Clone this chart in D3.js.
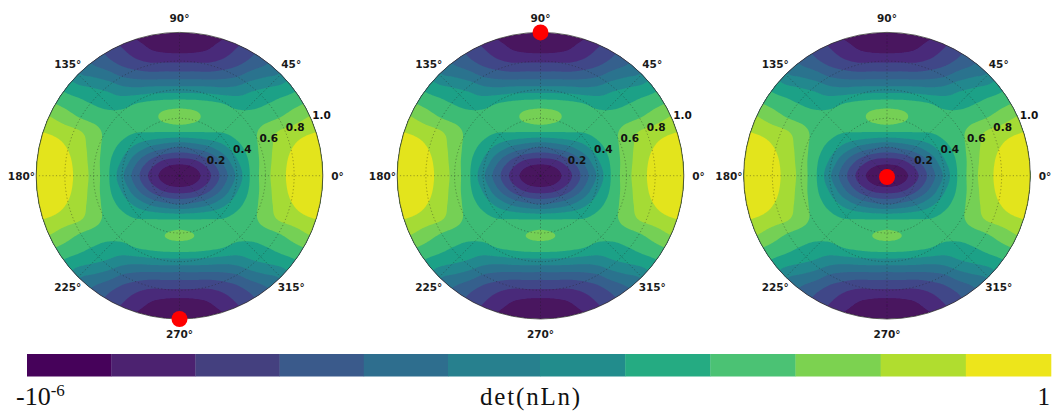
<!DOCTYPE html>
<html><head><meta charset="utf-8">
<style>html,body{margin:0;padding:0;background:#fff}svg{display:block}</style>
<script src="https://cdn.jsdelivr.net/npm/d3@7"></script></head>
<body><svg id="c" width="1053" height="411"></svg>
<script>
// Band index on a 0.1 grid of the upper-right quadrant (row: y = 0..1, col: x = 0..1)
const quadrantLevels = [
 [-0.3,0.5,1.7,3.37,5.2,7.17,8.6,9.65,10.4,10.9,11.2],
 [1.5,1.75,2.75,4.17,5.85,7.25,8.55,9.55,10.35,10.85,11.1],
 [4.0,4.3,4.85,5.7,6.65,7.5,8.55,9.4,10.05,10.55,10.9],
 [6.9,6.9,6.95,7.0,7.3,7.7,8.45,9.15,9.55,9.9,10.1],
 [8.45,8.2,7.75,7.5,7.4,7.45,7.7,8.05,8.55,9.1,9.5],
 [7.55,7.5,7.3,7.05,6.65,6.65,6.95,7.35,7.75,8.15,8.5],
 [5.5,5.5,5.45,5.3,5.4,5.85,6.13,6.43,6.85,7.5,7.9],
 [3.47,3.5,3.45,3.58,3.85,4.45,4.85,5.15,6.2,7.0,7.5],
 [1.85,1.85,1.85,2.15,2.6,3.2,3.75,4.6,5.4,6.2,7],
 [0.45,0.55,0.85,1.4,1.95,2.6,3.3,4.1,5,5.8,6.5],
 [0.2,0.25,0.4,0.7,1.3,2,2.8,3.6,4.5,5.3,6]
];
// The lower half differs only near the small island at y = -0.4
const southIslandRow = [8.12,7.98,7.7,7.5,7.4,7.45,7.7,8.05,8.55,9.1,9.5];
const bandThresholds = [1,2,3,4,5,6,7,8,9,10];
const bandColors = ["#48125f","#492c7a","#414788","#35608d","#2c738e","#23888e","#1fa187","#3dbc74","#74d055","#a5db36","#e3e41a"];
const radialTicks = [0.2,0.4,0.6,0.8,1.0];
const angleTicks = [0,45,90,135,180,225,270,315];
const panelCenters = [179.5,540.5,887];
const markerTheta = [270,90,0];
const markerRadius = [1,1,0];
const colorbarSteps = [0,1,2,3,4,5,6,7,8,9,10,11];
const colorbarColors = ["#46025a","#4c2270","#44407f","#3a5a8b","#2e6e8e","#27808e","#228c8c","#25ab82","#4bc274","#7cd250","#b0dd2f","#ede51b"];

const R = 143.3, CY = 175.7, N = 10, UP = 10;
const svg = d3.select("#c");
const defs = svg.append("defs");
defs.append("filter").attr("id","soft").attr("x","-5%").attr("y","-5%").attr("width","110%").attr("height","110%")
  .append("feGaussianBlur").attr("stdDeviation",0.45);
defs.append("clipPath").attr("id","disc").append("circle").attr("r",R);

function cell(i,j){
  const row = (j===-4) ? southIslandRow : quadrantLevels[Math.abs(j)];
  return row[Math.abs(i)];
}
const clampI = v => Math.max(-N,Math.min(N,v));
function cr(p0,p1,p2,p3,t){return 0.5*(2*p1+(p2-p0)*t+(2*p0-5*p1+4*p2-p3)*t*t+(3*p1-p0-3*p2+p3)*t*t*t);}
const size = 2*N*UP+1;
const field = new Float64Array(size*size);
for(let r=0;r<size;r++){
  const yv = (size-1-r)/UP - N, j0 = Math.floor(yv), ty = yv-j0;
  for(let c=0;c<size;c++){
    const xv = c/UP - N, i0 = Math.floor(xv), tx = xv-i0;
    const col = [-1,0,1,2].map(dj=>{
      const j = clampI(j0+dj);
      const a=[-1,0,1,2].map(di=>cell(clampI(i0+di),j));
      return cr(a[0],a[1],a[2],a[3],tx);
    });
    field[r*size+c]=cr(col[0],col[1],col[2],col[3],ty);
  }
}
const x = d3.scaleLinear([-1,1],[-R,R]);
const y = d3.scaleLinear([-1,1],[R,-R]);
const rad = d3.scaleLinear([0,1],[0,R]);
const contours = d3.contours().size([size,size]).thresholds(bandThresholds)(Array.from(field));
const projection = d3.geoTransform({point(px,py){
  this.stream.point(x(-1+2*(px-0.5)/(size-1)), y(1-2*(py-0.5)/(size-1)));
}});
const path = d3.geoPath(projection);

panelCenters.forEach((cx,pi)=>{
  const g = svg.append("g").attr("transform",`translate(${cx},${CY})`);
  const plot = g.append("g").attr("filter","url(#soft)");
  const inner = plot.append("g").attr("clip-path","url(#disc)");
  inner.append("circle").attr("r",R).attr("fill",bandColors[0]);
  inner.selectAll("path.band").data(contours).join("path").attr("class","band")
    .attr("d",path).attr("fill",(d,i)=>bandColors[i+1]);
  const ptrn = "1.2 2.2";
  inner.selectAll("circle.rg").data(radialTicks.slice(0,4)).join("circle").attr("class","rg")
    .attr("r",d=>rad(d)).attr("fill","none").attr("stroke","#222").attr("stroke-opacity",.55).attr("stroke-width",.7).attr("stroke-dasharray",ptrn);
  inner.selectAll("line.ag").data(angleTicks).join("line").attr("class","ag")
    .attr("x2",d=>rad(1)*Math.cos(d*Math.PI/180)).attr("y2",d=>-rad(1)*Math.sin(d*Math.PI/180))
    .attr("stroke","#222").attr("stroke-opacity",.55).attr("stroke-width",.7).attr("stroke-dasharray",ptrn);
  plot.append("circle").attr("r",R).attr("fill","none").attr("stroke","#333").attr("stroke-width",.8);
  g.selectAll("text.at").data(angleTicks).join("text").attr("class","at")
    .attr("x",d=>1.103*R*Math.cos(d*Math.PI/180)).attr("y",d=>-1.103*R*Math.sin(d*Math.PI/180))
    .attr("text-anchor","middle").attr("dominant-baseline","central")
    .attr("font-family","DejaVu Sans").attr("font-weight","bold").attr("font-size",10.5).attr("fill","#1a1a1a")
    .text(d=>d+"°");
  const la = 23*Math.PI/180;
  g.selectAll("text.rt").data(radialTicks).join("text").attr("class","rt")
    .attr("x",d=>(rad(d)+11)*Math.cos(la)).attr("y",d=>-(rad(d)+11)*Math.sin(la))
    .attr("text-anchor","middle").attr("dominant-baseline","central")
    .attr("font-family","DejaVu Sans").attr("font-weight","bold").attr("font-size",10.5).attr("fill","#111")
    .text(d=>d.toFixed(1));
  const th = markerTheta[pi]*Math.PI/180, mr = rad(markerRadius[pi]);
  g.append("circle").attr("cx",mr*Math.cos(th)).attr("cy",-mr*Math.sin(th)+(pi===2?1.3:0)).attr("r",8).attr("fill","#fe0000");
});

const cbX = d3.scaleLinear([0,5,6,12],[27,448,540,1051]);
svg.append("g").selectAll("rect").data(colorbarSteps).join("rect")
  .attr("x",d=>cbX(d)).attr("width",d=>cbX(d+1)-cbX(d)+0.3).attr("y",354).attr("height",22.5)
  .attr("fill",d=>colorbarColors[d]);
const serif = "Liberation Serif";
const t1 = svg.append("text").attr("x",16).attr("y",405).attr("font-family",serif).attr("font-size",26).attr("fill","#111");
t1.append("tspan").text("-10");
t1.append("tspan").attr("dy",-9).attr("font-size",17).text("-6");
svg.append("text").attr("x",531).attr("y",405).attr("text-anchor","middle").attr("font-family",serif).attr("font-size",25).attr("letter-spacing",1.8).attr("fill","#111").text("det(nLn)");
svg.append("text").attr("x",1050).attr("y",405).attr("text-anchor","end").attr("font-family",serif).attr("font-size",25).attr("fill","#111").text("1");
</script></body></html>
